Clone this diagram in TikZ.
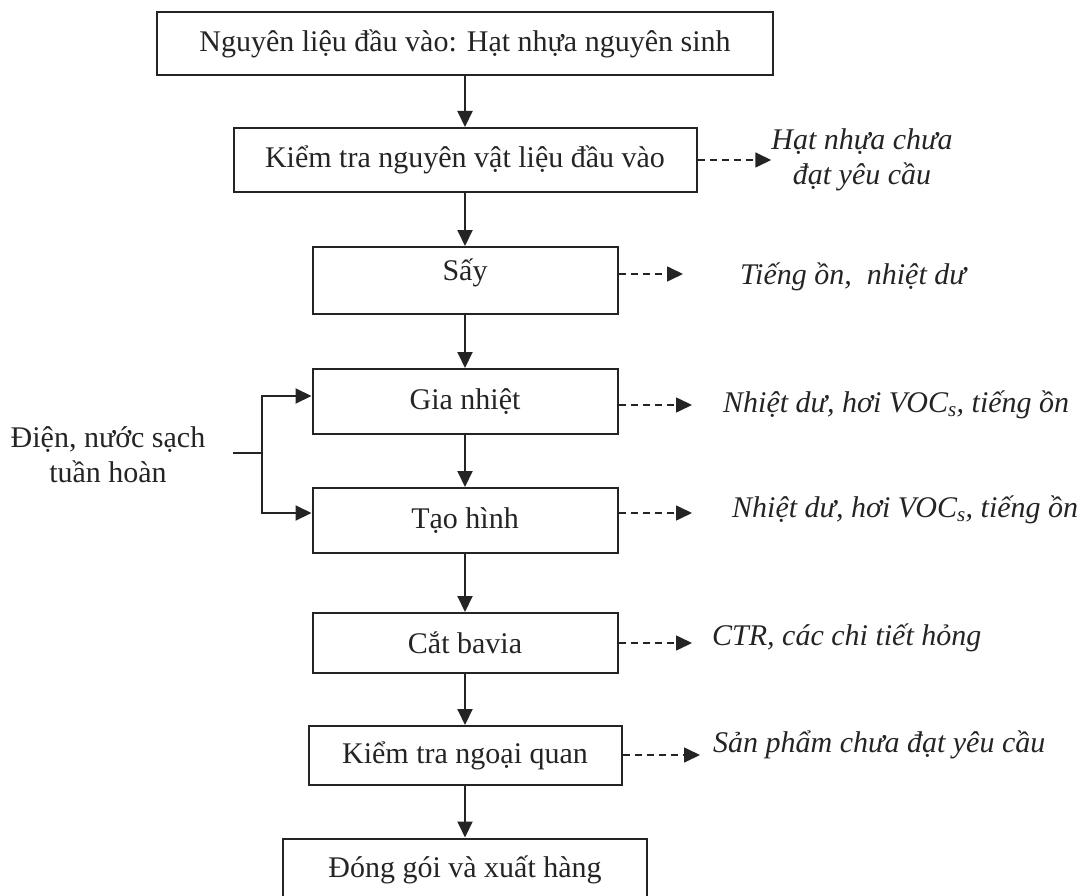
\documentclass[tikz,border=0pt]{standalone}
\usepackage{fontspec}
\setmainfont{Liberation Serif}
\usetikzlibrary{arrows.meta}
\definecolor{ink}{gray}{0.14}
\tikzset{
  stage/.style={
      draw=ink,
      line width=2pt,
      text=ink,
      font=\fontsize{30}{35}\selectfont,
      minimum height=63pt
      },
  waste/.style={
      text=ink,
      font=\fontsize{30}{35}\selectfont\itshape,
      inner sep=0pt,
      anchor=west
      },
  source/.style={
      text=ink,
      font=\fontsize{30}{35}\selectfont,
      align=center
      },
  flow/.style={->, draw=ink, line width=2pt},
  leak/.style={->, draw=ink, line width=1.6pt, dash pattern=on 7pt off 5pt},
  >={Triangle[length=16pt,width=15pt]}
}

\begin{document}
\begin{tikzpicture}[x=1pt,y=-1pt]
\clip (0,0) rectangle (1089,896);
\node [stage, minimum width=616pt] (nguyenlieu) at (465,43.5) {Nguyên liệu đầu vào: Hạt nhựa nguyên sinh};
\node [stage, minimum width=463pt, minimum height=64pt] (kiemtra) at (465,160) {Kiểm tra nguyên vật liệu đầu vào};
\node [stage, minimum width=305pt, minimum height=67pt, text depth=21pt] (say) at (465,280.5) {Sấy};
\node [stage, minimum width=305pt, minimum height=65pt] (gianhiet) at (465,401.5) {Gia nhiệt};
\node [stage, minimum width=305pt, minimum height=65pt] (taohinh) at (465,520.5) {Tạo hình};
\node [stage, minimum width=305pt, minimum height=60pt] (catbavia) at (465,643) {Cắt bavia};
\node [stage, minimum width=313pt, minimum height=59pt] (ngoaiquan) at (465,755.5) {Kiểm tra ngoại quan};
\node [stage, minimum width=364pt] (donggoi) at (465,870) {Đóng gói và xuất hàng};

\draw [flow] (nguyenlieu) to (kiemtra);
\draw [flow] (kiemtra) to (say);
\draw [flow] (say) to (gianhiet);
\draw [flow] (gianhiet) to (taohinh);
\draw [flow] (taohinh) to (catbavia);
\draw [flow] (catbavia) to (ngoaiquan);
\draw [flow] (ngoaiquan) to (donggoi);

\node [waste, anchor=center, align=center] (loai1) at (862,160) {Hạt nhựa chưa\\đạt yêu cầu};
\node [waste] (loai2) at (740,277) {Tiếng ồn,\ \ nhiệt dư};
\node [waste] (loai3) at (723,405) {Nhiệt dư, hơi VOC\textsubscript{s}, tiếng ồn};
\node [waste] (loai4) at (732,510) {Nhiệt dư, hơi VOC\textsubscript{s}, tiếng ồn};
\node [waste] (loai5) at (712,638) {CTR, các chi tiết hỏng};
\node [waste] (loai6) at (713,745) {Sản phẩm chưa đạt yêu cầu};

\coordinate (tip2) at (683,274);
\coordinate (tip3) at (692,405);
\coordinate (tip4) at (692,513);
\coordinate (tip5) at (692,643);
\coordinate (tip6) at (700,755);
\draw [leak] (kiemtra.east) to (loai1.west);
\draw [leak] (say.east |- tip2) to (tip2);
\draw [leak] (gianhiet.east |- tip3) to (tip3);
\draw [leak] (taohinh.east |- tip4) to (tip4);
\draw [leak] (catbavia.east |- tip5) to (tip5);
\draw [leak] (ngoaiquan.east |- tip6) to (tip6);

\node [source] (dien) at (108,455) {Điện, nước sạch\\tuần hoàn};
\coordinate (cap) at (233,453);
\coordinate (nhanh) at (262,453);
\draw [ink, line width=2pt] (cap) to (nhanh);
\draw [flow] (nhanh) |- ([yshift=5.5pt]gianhiet.west);
\draw [flow] (nhanh) |- ([yshift=7.5pt]taohinh.west);
\end{tikzpicture}
\end{document}
